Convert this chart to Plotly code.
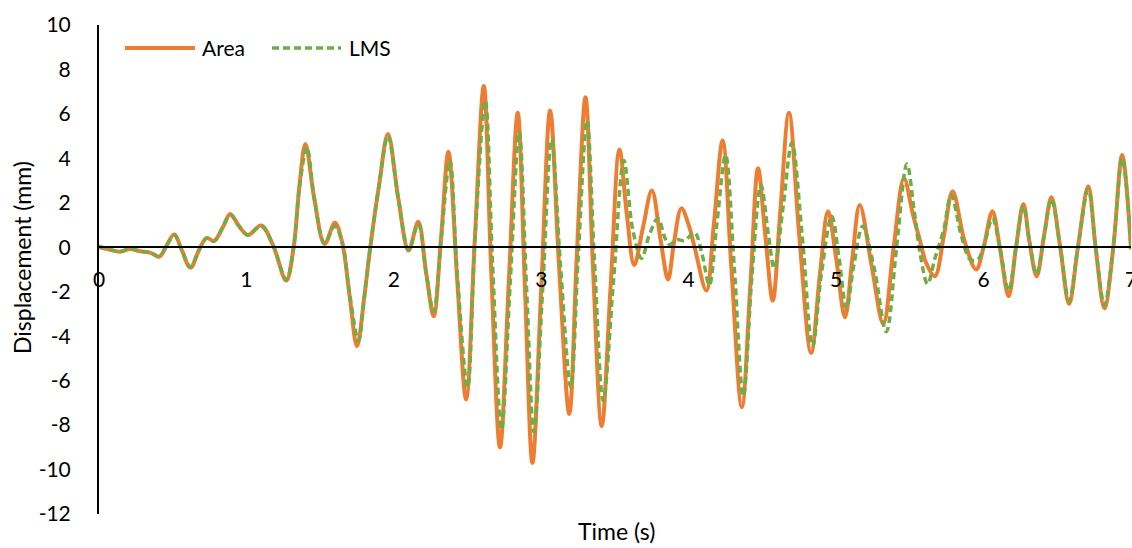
import plotly.graph_objects as go

# ---- data ----
area_t = [0.00, 0.07, 0.14, 0.21, 0.28, 0.35, 0.41, 0.46, 0.51, 0.56, 0.62, 0.68, 0.73, 0.78, 0.84, 0.89,
          0.95, 1.01, 1.10, 1.18, 1.27, 1.32, 1.36, 1.40, 1.46, 1.53, 1.60, 1.65, 1.70, 1.75, 1.80, 1.84,
          1.90, 1.96, 2.03, 2.10, 2.165, 2.22, 2.27, 2.32, 2.37, 2.43, 2.49, 2.55, 2.61, 2.66, 2.72, 2.78,
          2.84, 2.89, 2.94, 3.00, 3.06, 3.12, 3.19, 3.24, 3.30, 3.35, 3.41, 3.47, 3.53, 3.58, 3.63, 3.69,
          3.75, 3.81, 3.86, 3.90, 3.95, 4.00, 4.04, 4.12, 4.17, 4.23, 4.29, 4.36, 4.42, 4.47, 4.52, 4.57,
          4.62, 4.68, 4.75, 4.83, 4.89, 4.945, 5.00, 5.06, 5.11, 5.16, 5.24, 5.32, 5.39, 5.46, 5.52, 5.57,
          5.61, 5.67, 5.73, 5.79, 5.87, 5.95, 6.00, 6.06, 6.11, 6.17, 6.22, 6.27, 6.31, 6.36, 6.41, 6.46,
          6.52, 6.58, 6.64, 6.71, 6.76, 6.82, 6.88, 6.94, 7.00]
area_y = [0.00, -0.10, -0.20, -0.08, -0.18, -0.25, -0.42, 0.10, 0.58, -0.10, -0.92, -0.10, 0.42, 0.28, 0.90, 1.50,
          0.95, 0.55, 0.98, 0.10, -1.50, 0.00, 2.80, 4.65, 2.20, 0.15, 1.10, 0.20, -2.20, -4.45, -2.20, 0.00,
          2.80, 5.10, 2.20, -0.15, 1.15, -1.20, -3.10, 0.40, 4.30, -1.50, -6.85, 0.50, 7.25, -1.00, -9.00, -1.50,
          6.05, -2.00, -9.70, -1.80, 6.15, -0.80, -7.50, -0.50, 6.75, -0.80, -8.05, -1.80, 4.40, 1.50, -0.80, 0.90,
          2.55, 0.30, -1.45, 0.20, 1.75, 1.00, 0.00, -1.95, 1.00, 4.80, -1.00, -7.20, -1.50, 3.55, 0.50, -2.40,
          1.50, 6.05, 0.50, -4.75, -1.20, 1.62, -0.50, -3.15, -0.50, 1.90, -0.80, -3.45, 0.00, 3.10, 1.50, 0.27,
          -0.70, -1.30, 0.50, 2.52, 0.30, -1.00, 0.00, 1.62, 0.00, -2.20, 0.00, 1.95, 0.30, -1.30, 0.50, 2.25,
          0.00, -2.55, 0.00, 2.75, 0.00, -2.75, 0.00, 4.15, -0.10]

lms_t = [0.00, 0.07, 0.14, 0.21, 0.28, 0.35, 0.41, 0.46, 0.51, 0.56, 0.62, 0.68, 0.73, 0.78, 0.84, 0.89,
         0.95, 1.01, 1.10, 1.18, 1.27, 1.32, 1.36, 1.41, 1.46, 1.53, 1.60, 1.65, 1.70, 1.76, 1.80, 1.84,
         1.90, 1.96, 2.03, 2.10, 2.165, 2.22, 2.27, 2.32, 2.38, 2.43, 2.50, 2.55, 2.62, 2.67, 2.73, 2.79,
         2.85, 2.90, 2.95, 3.01, 3.07, 3.13, 3.20, 3.25, 3.31, 3.36, 3.42, 3.49, 3.56, 3.62, 3.68, 3.73,
         3.79, 3.84, 3.87, 3.92, 3.97, 4.04, 4.09, 4.14, 4.19, 4.25, 4.31, 4.37, 4.43, 4.49, 4.54, 4.58,
         4.64, 4.70, 4.77, 4.84, 4.90, 4.97, 5.02, 5.07, 5.12, 5.18, 5.26, 5.34, 5.41, 5.48, 5.53, 5.57,
         5.62, 5.67, 5.73, 5.78, 5.85, 5.91, 5.96, 6.00, 6.06, 6.11, 6.17, 6.22, 6.27, 6.31, 6.36, 6.41,
         6.46, 6.52, 6.58, 6.64, 6.71, 6.76, 6.82, 6.88, 6.94, 7.00]
lms_y = [0.05, -0.10, -0.20, -0.08, -0.18, -0.25, -0.42, 0.10, 0.55, -0.10, -0.88, -0.10, 0.40, 0.28, 0.90, 1.45,
         0.95, 0.55, 0.95, 0.10, -1.45, 0.00, 2.70, 4.50, 2.20, 0.20, 0.95, 0.20, -2.10, -4.20, -2.20, 0.00,
         2.80, 5.00, 2.20, -0.10, 1.05, -1.20, -2.90, 0.30, 3.90, -1.20, -6.30, 0.30, 6.60, -0.80, -8.20, -1.50,
         5.20, -1.80, -8.30, -1.80, 4.85, -0.80, -6.30, -0.50, 5.70, -0.50, -6.90, -1.50, 3.90, 0.80, -0.50, 0.50,
         1.30, 0.40, 0.12, 0.35, 0.30, 0.65, -0.30, -1.70, 1.00, 4.15, -1.00, -6.70, -1.20, 2.80, 0.60, -0.95,
         1.80, 4.70, 0.50, -4.45, -1.20, 1.40, -0.50, -2.75, -0.80, 0.95, -1.00, -3.80, 0.00, 3.75, 1.60, -0.30,
         -1.65, -0.50, 0.80, 2.35, 0.50, -0.55, -0.55, 0.00, 1.30, 0.00, -1.95, 0.00, 1.85, 0.30, -1.20, 0.50,
         2.15, 0.00, -2.40, 0.00, 2.60, 0.00, -2.60, 0.00, 4.00, 0.00]

x_ticks = [0, 1, 2, 3, 4, 5, 6, 7]
y_ticks = [-12, -10, -8, -6, -4, -2, 0, 2, 4, 6, 8, 10]

ORANGE = "#ED7D31"
GREEN = "#70AD47"
FONT = "Lato"

fig = go.Figure()
fig.add_trace(go.Scatter(x=area_t, y=area_y, mode="lines", name="Area",
                         line=dict(color=ORANGE, width=4, shape="spline", smoothing=1.0)))
fig.add_trace(go.Scatter(x=lms_t, y=lms_y, mode="lines", name="LMS",
                         line=dict(color=GREEN, width=3.5, dash="7px,4px", shape="spline", smoothing=1.0)))

L, R, T, B = 99, 1, 25, 34
W, H = 1132, 548
pw, ph = W - L - R, H - T - B

def px(x):
    return (x - L) / pw

def py(y):
    return (H - B - y) / ph

fig.update_layout(
    width=W, height=H,
    margin=dict(l=L, r=R, t=T, b=B, autoexpand=False),
    plot_bgcolor="white", paper_bgcolor="white",
    showlegend=False,
    font=dict(family=FONT, size=21, color="black"),
    xaxis=dict(range=[0, 7], tickvals=x_ticks, ticktext=[str(v) for v in x_ticks],
               showgrid=False, zeroline=False, showline=True, linecolor="black", linewidth=2,
               anchor="free", position=12 / 22, ticks="", ticklabelstandoff=14,
               ticklabeloverflow="allow", automargin=False, tickfont=dict(size=21)),
    yaxis=dict(range=[-12, 10], tickvals=y_ticks, ticktext=[str(v) for v in y_ticks],
               showgrid=False, zeroline=False, showline=True, linecolor="black", linewidth=2,
               ticks="", ticklabelstandoff=22, automargin=False, tickfont=dict(size=21)),
)

# legend drawn by hand (Excel style: long line samples)
legend_items = [("Area", ORANGE, "solid", 4, 125, 195, 200), ("LMS", GREEN, "7px,4px", 3.5, 272, 341, 347)]
for name, col, dash, wdt, x0, x1, xt in legend_items:
    fig.add_shape(type="line", xref="paper", yref="paper", x0=px(x0), x1=px(x1), y0=py(48), y1=py(48),
                  line=dict(color=col, width=wdt, dash=dash))
    fig.add_annotation(text=name, xref="paper", yref="paper", x=px(xt), y=py(48), xanchor="left",
                       yanchor="middle", showarrow=False, font=dict(size=21))

fig.add_annotation(text="Time (s)", xref="paper", yref="paper", x=px(616), y=py(531), xanchor="center",
                   yanchor="middle", showarrow=False, font=dict(size=23))
fig.add_annotation(text="Displacement (mm)", xref="paper", yref="paper", x=px(22), y=py(258), xanchor="center",
                   yanchor="middle", showarrow=False, textangle=-90, font=dict(size=23))

fig.write_html("out.html")
